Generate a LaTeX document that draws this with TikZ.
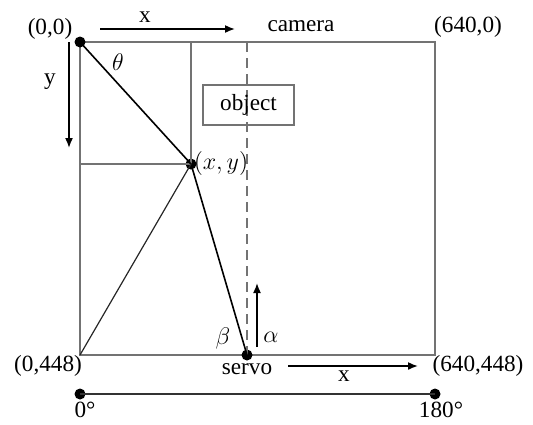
\documentclass[tikz,border=0pt]{standalone}
\usepackage{fontspec}
\setmainfont{Liberation Serif}
\usepackage{amsmath}
\usepackage{xcolor}
\usetikzlibrary{arrows.meta}

\begin{document}
\begin{tikzpicture}[x=0.5pt,y=-0.5pt,
  frame/.style={draw=black!55, line width=1pt},
  ray/.style={draw=black, line width=0.8pt},
  dot/.style={circle,fill=black,inner sep=0pt,minimum size=5.5pt},
  lbl/.style={font=\fontsize{11.6}{13}\selectfont, inner sep=0pt},
  axis/.style={-{Latex[length=5pt,width=4pt]}, line width=0.8pt}]
  \useasboundingbox (0,0) rectangle (533,424);
  % image frame
  \coordinate (tl) at (80,42);
  \coordinate (tr) at (435,42);
  \coordinate (bl) at (80,355);
  \coordinate (br) at (435,355);
  \draw[frame] (tl) -- (tr) -- (br) -- (bl) -- cycle;
  % projections of the point
  \coordinate (px) at (191,42);
  \coordinate (py) at (80,164);
  \node[dot] (pt) at (191,164) {};
  \draw[frame] (px) -- (pt.center) -- (py);
  % centre line above the servo
  \coordinate (ctop) at (247,42);
  \node[dot] (servo) at (247,355) {};
  \draw[frame, dash pattern=on 5pt off 3pt] (ctop) -- (servo.center);
  \node[frame, lbl, minimum width=45.5pt, minimum height=20pt] (object) at (248.5,105) {object};
  % rays
  \node[dot] (origin) at (tl) {};
  \draw[ray] (origin.center) -- (pt.center) -- (servo.center);
  \draw[draw=black!85, line width=0.6pt] (bl) -- (pt.center);
  % corner labels
  \node[lbl] (l00) at (50,29) {(0,0)};
  \node[lbl] (l6400) at (468,27) {(640,0)};
  \node[lbl] (l0448) at (48,366) {(0,448)};
  \node[lbl] (l640448) at (478,366) {(640,448)};
  \node[lbl] (lcam) at (301,26) {camera};
  \node[lbl] (lservo) at (247,369) {servo};
  \node[lbl] (lpt) at (221,163) {$(x,y)$};
  \node[lbl] (ltheta) at (118,62) {$\theta$};
  \node[lbl] (lbeta) at (223,338) {$\beta$};
  \node[lbl] (lalpha) at (271,337) {$\alpha$};
  % axis arrows
  \coordinate (xa0) at (100,29);
  \coordinate (xa1) at (235,29);
  \draw[axis] (xa0) -- (xa1);
  \node[lbl] (lx) at (145,17) {x};
  \coordinate (ya0) at (69,42);
  \coordinate (ya1) at (69,148);
  \draw[axis] (ya0) -- (ya1);
  \node[lbl] (ly) at (50,82) {y};
  \coordinate (aa0) at (257,347);
  \coordinate (aa1) at (257,283);
  \draw[axis] (aa0) -- (aa1);
  \coordinate (xb0) at (288,366);
  \coordinate (xb1) at (418,366);
  \draw[axis] (xb0) -- (xb1);
  \node[lbl] (lx2) at (344,376) {x};
  % servo angle range
  \node[dot] (deg0) at (80,394) {};
  \node[dot] (deg180) at (435,394) {};
  \draw[draw=black!80, line width=1pt] (deg0.center) -- (deg180.center);
  \node[lbl] (l0) at (85,410) {0°};
  \node[lbl] (l180) at (441,410) {180°};
\end{tikzpicture}
\end{document}
